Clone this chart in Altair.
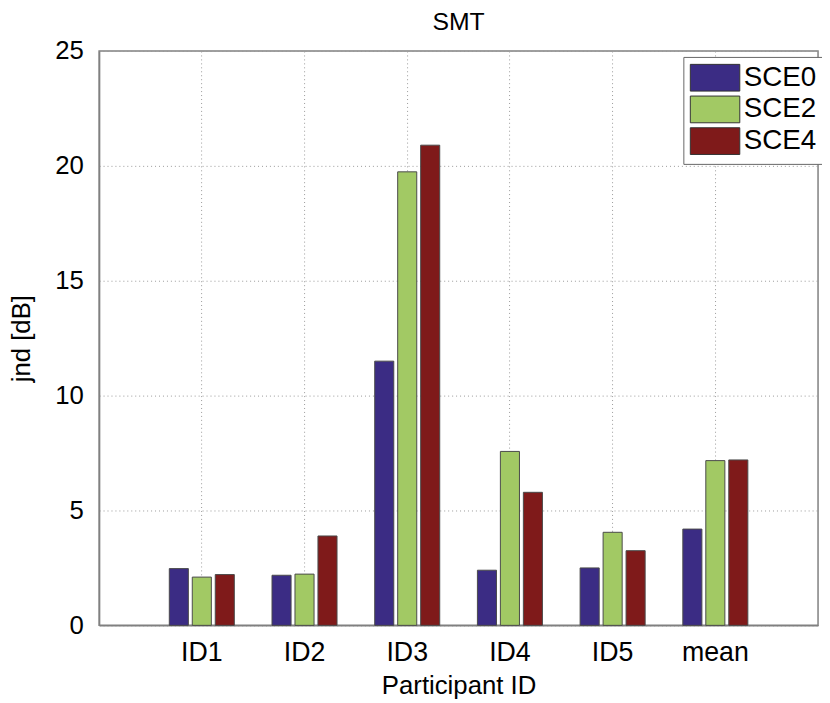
import altair as alt
import pandas as pd

participants = ["ID1", "ID2", "ID3", "ID4", "ID5", "mean"]
series = ["SCE0", "SCE2", "SCE4"]
sce0 = [2.47, 2.18, 11.5, 2.40, 2.50, 4.19]
sce2 = [2.10, 2.23, 19.74, 7.57, 4.05, 7.17]
sce4 = [2.21, 3.89, 20.9, 5.79, 3.25, 7.20]
colors = ["#3b2c84", "#a2c964", "#7f1a1a"]
y_ticks = [0, 5, 10, 15, 20, 25]

rows = []
for s, vals in zip(series, [sce0, sce2, sce4]):
    for p, v in zip(participants, vals):
        rows.append({"participant": p, "series": s, "jnd": v})
df = pd.DataFrame(rows)

FONT = "Liberation Sans"
rect_path = "M-1.85,-1H1.85V1H-1.85Z"

chart = alt.Chart(df).mark_bar(stroke="#4a4a4a", strokeWidth=1).encode(
    x=alt.X("participant:N", sort=participants, title="Participant ID",
            scale=alt.Scale(paddingInner=0, paddingOuter=0.5),
            axis=alt.Axis(labelAngle=0, bandPosition=0.5, grid=True, ticks=False,
                          labelPadding=14, titlePadding=8, labelFontSize=27)),
    xOffset=alt.XOffset("series:N", sort=series,
                        scale=alt.Scale(paddingInner=0.17, paddingOuter=0.82)),
    y=alt.Y("jnd:Q", title="jnd [dB]",
            scale=alt.Scale(domain=[0, 25], nice=False),
            axis=alt.Axis(values=y_ticks, grid=True, ticks=False,
                          labelPadding=16, titlePadding=20, labelFontSize=26)),
    color=alt.Color("series:N", sort=series, scale=alt.Scale(domain=series, range=colors),
                    legend=alt.Legend(orient="none", legendX=590, legendY=6, title=None,
                                      symbolType=rect_path, symbolSize=729,
                                      symbolOffset=11, symbolStrokeColor="#333",
                                      symbolStrokeWidth=1,
                                      labelFont=FONT, labelFontSize=28, labelColor="#000",
                                      labelOffset=15, rowPadding=0,
                                      strokeColor="#666", fillColor="white", padding=7)),
).properties(
    width=726, height=580,
    title=alt.TitleParams("SMT", font=FONT, fontSize=25, fontWeight="normal",
                          color="#000", offset=3),
    autosize=alt.AutoSizeParams(type="none"),
    padding={"left": 92, "top": 40, "right": 4, "bottom": 75},
).configure_view(
    stroke="#808080", strokeWidth=1.5
).configure_axis(
    domainColor="#808080", domainWidth=1.5,
    gridColor="#999999", gridDash=[1, 3], gridWidth=1, gridOpacity=1,
    labelFont=FONT, labelColor="#000",
    titleFont=FONT, titleFontSize=26, titleColor="#000", titleFontWeight="normal",
)

chart.save("out.html", embed_options={"renderer": "svg", "actions": False})
